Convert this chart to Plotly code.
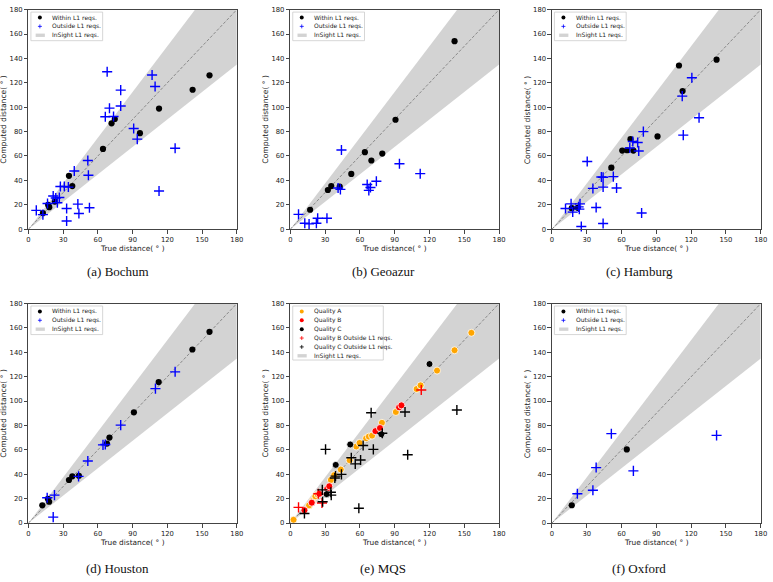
import plotly.graph_objects as go

W, H = 773, 582

# ---------------- data ----------------
ticks_x = [0, 30, 60, 90, 120, 150, 180]
ticks_y = [0, 20, 40, 60, 80, 100, 120, 140, 160, 180]
band_lo, band_hi = 0.75, 1.25  # InSight L1 requirement band (+/-25 %)

bochum_in_x = [12.5, 17, 18, 22.8, 35, 37.9, 64.4, 71.8, 74.6, 96.3, 112.8, 141.8, 156.4]
bochum_in_y = [13.2, 20, 18, 22.6, 43.7, 35.3, 65.8, 86.8, 90.3, 78.7, 98.9, 114.3, 126.1]
bochum_out_x = [6.8, 12.5, 16.5, 21.4, 23.6, 25, 26.7, 27.6, 31, 34.5, 33, 33, 39.6, 42.7, 43.6,
                51.3, 51.8, 52.7, 66.4, 68, 70, 73.5, 79.7, 79.7, 90.9, 94, 106.8, 109.4, 112.8, 126.7]
bochum_out_y = [15.4, 11.9, 21, 27.2, 25.6, 21.6, 25.9, 35, 35, 34.5, 17, 6.7, 47.7, 20.5, 12.9,
                56.3, 44.2, 17.5, 92.2, 129.1, 99.2, 92.4, 114, 101, 82.5, 73.8, 126.4, 117, 31.3, 66.3]

geoazur_in_x = [17.1, 32.4, 35.3, 42.6, 52.6, 64.3, 69.9, 79.3, 90.7, 141.6]
geoazur_in_y = [15.9, 32.1, 35.3, 34.8, 45.3, 63.1, 56.3, 62, 89.7, 154.1]
geoazur_out_x = [7.1, 12.5, 16.2, 22.5, 23.6, 31.6, 41.2, 43.2, 44.1, 66.3, 67.7, 69.1, 74.2, 94.1, 112]
geoazur_out_y = [12.1, 4.9, 4.3, 4.9, 8.9, 8.9, 33.7, 32.6, 64.9, 36.6, 31.8, 34.2, 39.3, 53.6, 45.5]

hamburg_in_x = [17.1, 22.2, 51.2, 60.6, 64.8, 67.7, 70.2, 91, 109.5, 112.6, 141.9]
hamburg_in_y = [17.2, 17.5, 50.4, 64.4, 64.7, 73.8, 64.4, 76, 134.2, 113.2, 139]
hamburg_out_x = [11.7, 16.5, 17.9, 23, 23.6, 24.2, 25.3, 30.4, 35.3, 38.1, 42.6, 44.1, 44.1, 44.1, 52.9,
                 55.7, 67.1, 69.7, 73.9, 74.8, 77.3, 78.8, 113.2, 112.3, 120.6, 126.8]
hamburg_out_y = [17, 20.7, 14, 18.3, 16.4, 20.7, 2.2, 55.5, 33.4, 17.8, 42.8, 42.6, 34.5, 4.6, 43.1,
                 33.7, 66.6, 71.9, 71.1, 64.1, 13.2, 80, 77.1, 109.1, 124.2, 91.4]

houston_in_x = [12, 16.8, 17.9, 35, 37.9, 43.6, 67.8, 70, 91.1, 112.5, 141.6, 156.4]
houston_in_y = [14.6, 19.9, 17.5, 35.3, 38.3, 38.8, 65.2, 70.1, 90.8, 115.6, 142.3, 156.8]
houston_out_x = [16.2, 21.4, 22.5, 43.3, 51.3, 64.4, 66.4, 79.7, 109.7, 126.7]
houston_out_y = [20.7, 4.9, 22.9, 38.3, 50.9, 64.1, 64.4, 80.3, 110.2, 124]

oxford_in_x = [17.1, 64.5]
oxford_in_y = [14.6, 60.4]
oxford_out_x = [21.9, 35.3, 38.1, 51.2, 70.2, 141.9]
oxford_out_y = [24, 26.9, 45.5, 73.3, 42.8, 71.9]

mqs_a_x = [2.8, 16.2, 19, 21.6, 23.6, 35, 37.8, 43.5, 51.2, 56.9, 59.7, 65.4, 67.7, 70.5, 79, 91,
           108.9, 112.3, 126.5, 141.6, 156.1]
mqs_a_y = [2.7, 14.5, 18, 22, 23.4, 35.3, 39.3, 43.9, 51.5, 62.8, 65.7, 69.5, 70.9, 71.7, 82.2, 91.1,
           109.9, 112.9, 125, 141.7, 156]
mqs_b_x = [12.2, 18.5, 25, 31.8, 33.6, 73.4, 77.3, 93.8, 95.8]
mqs_b_y = [10.5, 16.7, 24, 28, 30.2, 75.4, 77.9, 94.9, 96.5]
mqs_c_x = [31.3, 39.2, 51.7, 78.5, 120]
mqs_c_y = [23.7, 47.7, 64.4, 72.8, 130.4]
mqs_b_out_x = [7.1, 24.2, 27.3, 112.9]
mqs_b_out_y = [12.9, 24, 16.4, 109.1]
mqs_c_out_x = [12.2, 27.6, 27.9, 30.4, 35, 35.3, 38.4, 39, 44.1, 52.6, 56, 60.6, 59.1, 62.8, 69.7,
               71.6, 79.3, 98.9, 101.2, 143.6]
mqs_c_out_y = [7.8, 27.2, 17.5, 60.4, 25.3, 22.9, 36.9, 38.5, 39.9, 53.6, 48.5, 51.7, 12.1, 63.6, 90.5,
               60.4, 73.6, 91.1, 56, 92.7]

captions = ["(a) Bochum", "(b) Geoazur", "(c) Hamburg", "(d) Houston", "(e) MQS", "(f) Oxford"]

# ---------------- styling / layout constants ----------------
COLX = [(26.7, 237.3), (291.3, 502.3), (555.7, 766.7)]
ROWY = [(5.7, 228.3), (303.7, 526.3)]
CAP_X = [117, 385, 644]
CAP_Y = [271, 572]
AXC = "#444444"
TXT = "#222222"
FONT = "DejaVu Sans"
BLUE = "#0000ff"
ORANGE = "#ffa500"
RED = "#ff0000"
BAND = "#d3d3d3"

def px(x):
    return x / W

def py(y):
    return 1 - y / H

fig = go.Figure()
shapes = []
annotations = []

def add_axes(i):
    r, c = divmod(i, 3)
    (x0, x1), (y0, y1) = COLX[c], ROWY[r]
    sfx = "" if i == 0 else str(i + 1)
    common = dict(range=[0, 180], ticks="outside", ticklen=3.5, tickwidth=0.8, tickcolor=AXC,
                  showline=True, mirror=True, linecolor=AXC, linewidth=1, showgrid=False,
                  zeroline=False, tickfont=dict(size=6.8, family=FONT, color=TXT))
    fig.layout["xaxis" + sfx] = dict(domain=[px(x0), px(x1)], anchor="y" + sfx,
                                     tickvals=ticks_x, **common)
    fig.layout["yaxis" + sfx] = dict(domain=[py(y1), py(y0)], anchor="x" + sfx,
                                     tickvals=ticks_y, **common)
    # axis titles
    annotations.append(dict(text="True distance( ° )", xref="paper", yref="paper",
                            x=px((x0 + x1) / 2), y=py(y1 + 20), xanchor="center", yanchor="middle",
                            showarrow=False, font=dict(size=7.4, family=FONT, color=TXT)))
    annotations.append(dict(text="Computed distance( ° )", xref="paper", yref="paper",
                            x=px(x0 - 25.3), y=py((y0 + y1) / 2), xanchor="center", yanchor="middle",
                            textangle=-90, showarrow=False,
                            font=dict(size=7.6, family=FONT, color=TXT)))
    annotations.append(dict(text=captions[i], xref="paper", yref="paper",
                            x=px(CAP_X[c]), y=py(CAP_Y[r]), xanchor="center", yanchor="middle",
                            showarrow=False, font=dict(size=13, family="Liberation Serif", color="#111")))
    return "x" + sfx, "y" + sfx, x0, y0

def band_and_diag(xa, ya):
    fig.add_trace(go.Scatter(x=[0, 180, 180, 180 / band_hi, 0], y=[0, 180 * band_lo, 180, 180, 0],
                             xaxis=xa, yaxis=ya, mode="lines", fill="toself", fillcolor=BAND,
                             line=dict(width=0), hoverinfo="skip", showlegend=False))
    fig.add_trace(go.Scatter(x=[0, 180], y=[0, 180], xaxis=xa, yaxis=ya, mode="lines",
                             line=dict(color="#808080", width=0.9, dash="3px,1.8px"),
                             hoverinfo="skip", showlegend=False))

def dots(xa, ya, x, y, color, size=6.2, edge=None):
    fig.add_trace(go.Scatter(x=x, y=y, xaxis=xa, yaxis=ya, mode="markers", cliponaxis=False,
                             marker=dict(symbol="circle", size=size, color=color,
                                         line=dict(width=0.8 if edge else 0, color=edge or color)),
                             showlegend=False))

def crosses(xa, ya, x, y, color, size=7.2):
    fig.add_trace(go.Scatter(x=x, y=y, xaxis=xa, yaxis=ya, mode="markers", cliponaxis=False,
                             marker=dict(symbol="cross-thin", size=size,
                                         line=dict(width=1.4, color=color)),
                             showlegend=False))

def legend(x0, y0, items, box_w, box_h):
    shapes.append(dict(type="rect", xref="paper", yref="paper", layer="above",
                       x0=px(x0 + 2.5), x1=px(x0 + box_w), y0=py(y0 + box_h), y1=py(y0 + 2.5),
                       line=dict(color="#cccccc", width=0.8), fillcolor="rgba(255,255,255,0.85)"))
    for k, (kind, color, label) in enumerate(items):
        cy = y0 + 8 + 9 * k
        mx = x0 + 11.6
        if kind == "dot":
            shapes.append(dict(type="circle", xref="paper", yref="paper", layer="above",
                               x0=px(mx - 2), x1=px(mx + 2), y0=py(cy + 2), y1=py(cy - 2),
                               line=dict(width=0), fillcolor=color))
        elif kind == "cross":
            shapes.append(dict(type="line", xref="paper", yref="paper", layer="above",
                               x0=px(mx - 2), x1=px(mx + 2), y0=py(cy), y1=py(cy),
                               line=dict(width=0.8, color=color)))
            shapes.append(dict(type="line", xref="paper", yref="paper", layer="above",
                               x0=px(mx), x1=px(mx), y0=py(cy + 2), y1=py(cy - 2),
                               line=dict(width=0.8, color=color)))
        else:
            shapes.append(dict(type="rect", xref="paper", yref="paper", layer="above",
                               x0=px(x0 + 7.3), x1=px(x0 + 16.6), y0=py(cy + 1.7), y1=py(cy - 1.7),
                               line=dict(width=0), fillcolor=BAND))
        annotations.append(dict(text=label, xref="paper", yref="paper", x=px(x0 + 22.3),
                                y=py(cy), xanchor="left", yanchor="middle", showarrow=False,
                                font=dict(size=6, family=FONT, color=TXT)))

std_items = [("dot", "black", "Within L1 reqs."), ("cross", BLUE, "Outside L1 reqs."),
             ("patch", BAND, "InSight L1 reqs.")]

std_panels = {0: (bochum_in_x, bochum_in_y, bochum_out_x, bochum_out_y),
              1: (geoazur_in_x, geoazur_in_y, geoazur_out_x, geoazur_out_y),
              2: (hamburg_in_x, hamburg_in_y, hamburg_out_x, hamburg_out_y),
              3: (houston_in_x, houston_in_y, houston_out_x, houston_out_y),
              5: (oxford_in_x, oxford_in_y, oxford_out_x, oxford_out_y)}

for i in range(6):
    xa, ya, x0, y0 = add_axes(i)
    band_and_diag(xa, ya)
    if i in std_panels:
        ix, iy, ox, oy = std_panels[i]
        dots(xa, ya, ix, iy, "black")
        crosses(xa, ya, ox, oy, BLUE)
        legend(x0, y0, std_items, 75, 31.5)
    else:
        dots(xa, ya, mqs_a_x, mqs_a_y, ORANGE, size=7, edge="white")
        dots(xa, ya, mqs_b_x, mqs_b_y, RED, size=7, edge="white")
        dots(xa, ya, mqs_c_x, mqs_c_y, "black", size=7, edge="white")
        crosses(xa, ya, mqs_b_out_x, mqs_b_out_y, RED)
        crosses(xa, ya, mqs_c_out_x, mqs_c_out_y, "black")
        legend(x0, y0, [("dot", ORANGE, "Quality A"), ("dot", RED, "Quality B"),
                        ("dot", "black", "Quality C"), ("cross", RED, "Quality B Outside L1 reqs."),
                        ("cross", "black", "Quality C Outside L1 reqs."),
                        ("patch", BAND, "InSight L1 reqs.")], 94, 57.3)

fig.update_layout(width=W, height=H, margin=dict(l=0, r=0, t=0, b=0), showlegend=False,
                  plot_bgcolor="white", paper_bgcolor="white", shapes=shapes,
                  annotations=annotations)
fig.write_html("out.html")
